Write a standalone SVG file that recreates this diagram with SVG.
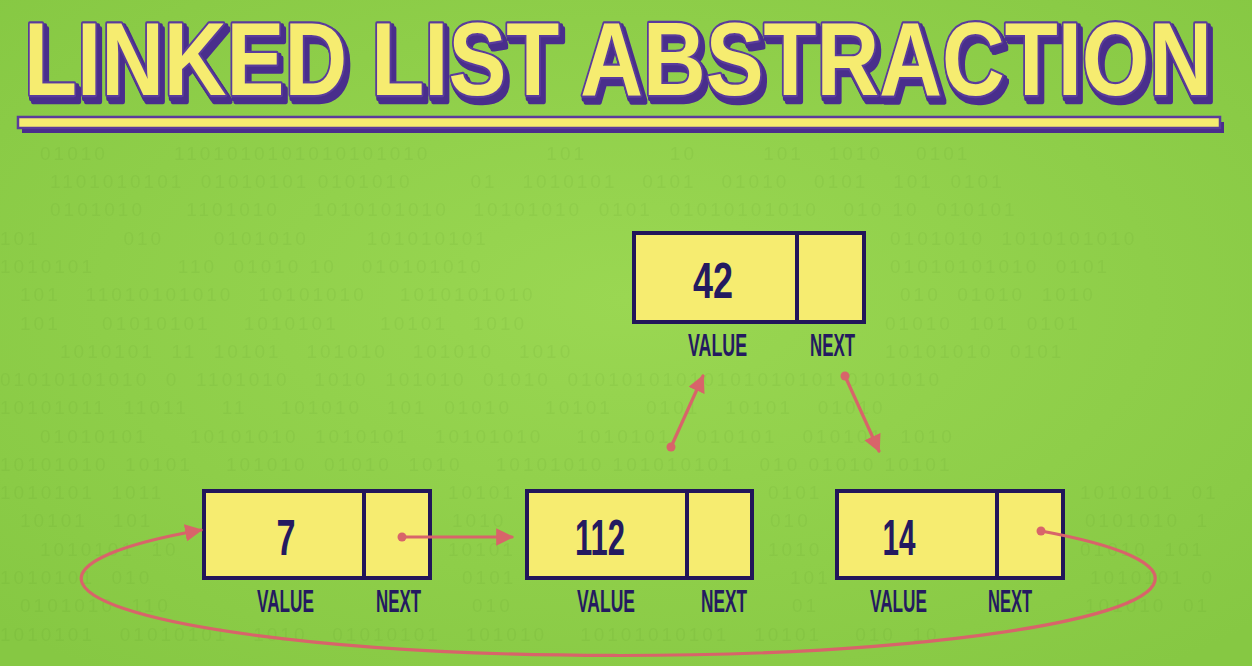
<svg xmlns="http://www.w3.org/2000/svg" width="1252" height="666" viewBox="0 0 1252 666">
<style>
.bin{font-family:"Liberation Sans","DejaVu Sans",sans-serif;font-size:19px;fill:#4f8a22;opacity:0.09;letter-spacing:3px;white-space:pre}
.box{fill:#f6ec70;stroke:#22165a;stroke-width:4}
.div{stroke:#22165a;stroke-width:4}
.num{font-family:"Liberation Sans","DejaVu Sans",sans-serif;font-weight:bold;font-size:50px;fill:#241a60;text-anchor:middle}
.lbl{font-family:"Liberation Sans","DejaVu Sans",sans-serif;font-weight:bold;font-size:31px;fill:#241a60}
.title{font-family:"Liberation Sans","DejaVu Sans",sans-serif;font-weight:bold;font-size:60px}
.conn{fill:none;stroke:#d8646a;stroke-width:3.2;stroke-linecap:round}
.dot{fill:#d8646a}
</style>
<defs>
<radialGradient id="bg" cx="0.5" cy="0.45" r="0.7">
<stop offset="0" stop-color="#9ad752"/>
<stop offset="1" stop-color="#86c843"/>
</radialGradient>
<marker id="ah" viewBox="0 0 10 10" refX="9" refY="5" markerWidth="5.5" markerHeight="5.5" orient="auto" markerUnits="strokeWidth">
<path d="M0,0 L10,5 L0,10 z" fill="#d8646a"/>
</marker>
<filter id="sh" x="-3%" y="-20%" width="106%" height="150%">
<feMorphology in="SourceAlpha" operator="dilate" radius="0.7" result="d"/>
<feOffset in="d" dx="1.38" dy="1.75" result="o1"/>
<feOffset in="d" dx="2.76" dy="3.5" result="o2"/>
<feMerge result="o"><feMergeNode in="o1"/><feMergeNode in="o2"/></feMerge>
<feFlood flood-color="#4a2d8c"/>
<feComposite in2="o" operator="in" result="s"/>
<feMerge><feMergeNode in="s"/><feMergeNode in="SourceGraphic"/></feMerge>
</filter>
</defs>
<rect x="0" y="0" width="1252" height="666" fill="url(#bg)"/>
<g id="background-binary" xml:space="preserve">
<text class="bin" x="40" y="160">01010        1101010101010101010              101          10        101   1010    0101</text>
<text class="bin" x="50" y="188">1101010101  01010101 0101010       01   1010101   0101   01010   0101   101  0101</text>
<text class="bin" x="50" y="216">0101010     1101010    1010101010   10101010  0101  01010101010   010 10  010101</text>
<text class="bin" x="0" y="245">101          010      0101010       101010101</text>
<text class="bin" x="890" y="245">0101010  1010101010</text>
<text class="bin" x="0" y="273">1010101          110  01010 10   010101010</text>
<text class="bin" x="890" y="273">01010101010  0101</text>
<text class="bin" x="20" y="301">101   11010101010   10101010    1010101010</text>
<text class="bin" x="900" y="301">010  01010  1010</text>
<text class="bin" x="20" y="330">101     01010101    1010101     10101   1010</text>
<text class="bin" x="885" y="330">01010  101  0101</text>
<text class="bin" x="60" y="358">1010101  11  10101   101010   101010   1010</text>
<text class="bin" x="885" y="358">10101010  0101</text>
<text class="bin" x="0" y="386">01010101010  0  1101010   1010  101010  01010  01010101010101010101 0101010</text>
<text class="bin" x="0" y="414">10101011  11011    11    101010   101  01010    10101    0101   10101   01010</text>
<text class="bin" x="40" y="443">01010101     10101010  1010101   10101010    1010101   010101   010101  1010</text>
<text class="bin" x="0" y="471">10101010  10101    101010  01010  1010    10101010 101010101   010 01010 10101</text>
<text class="bin" x="0" y="499">1010101  1011</text>
<text class="bin" x="448" y="499">10101</text>
<text class="bin" x="768" y="499">0101</text>
<text class="bin" x="1080" y="499">1010101  01</text>
<text class="bin" x="20" y="527">10101   101</text>
<text class="bin" x="452" y="527">1010</text>
<text class="bin" x="770" y="527">010</text>
<text class="bin" x="1085" y="527">0101010  1</text>
<text class="bin" x="40" y="556">1010101  10</text>
<text class="bin" x="448" y="556">10101</text>
<text class="bin" x="768" y="556">1010</text>
<text class="bin" x="1080" y="556">01010  101</text>
<text class="bin" x="0" y="584">1010101  010</text>
<text class="bin" x="462" y="584">0101</text>
<text class="bin" x="790" y="584">101</text>
<text class="bin" x="1090" y="584">1010101  0</text>
<text class="bin" x="20" y="612">0101010  110</text>
<text class="bin" x="472" y="612">010</text>
<text class="bin" x="792" y="612">01</text>
<text class="bin" x="1085" y="612">101010  01</text>
<text class="bin" x="0" y="641">1010101   01010101   1010   01010101   101010    10101010101   10101    010  10</text>
</g>
<g id="title">
<text class="title" transform="translate(24,94.5) scale(1.447,1.72)" x="0" y="0" fill="#f6ec70" stroke="#5a3b9c" stroke-width="2.5" stroke-linejoin="round" paint-order="stroke" filter="url(#sh)">LINKED LIST ABSTRACTION</text>
<rect x="22" y="122" width="1202" height="11" fill="#4a2d8c"/>
<rect x="18" y="117" width="1202" height="11" fill="#f6ec70" stroke="#5a3b9c" stroke-width="2.5"/>
</g>
<g id="node-42">
<rect class="box" x="634" y="233" width="230" height="89"/>
<line class="div" x1="797" y1="233" x2="797" y2="322"/>
<text class="num" x="713" y="298" textLength="40" lengthAdjust="spacingAndGlyphs">42</text>
<text class="lbl" x="688" y="356" textLength="59" lengthAdjust="spacingAndGlyphs">VALUE</text>
<text class="lbl" x="810" y="356" textLength="45" lengthAdjust="spacingAndGlyphs">NEXT</text>
</g>
<g id="node-7">
<rect class="box" x="204" y="491" width="226" height="87"/>
<line class="div" x1="364" y1="491" x2="364" y2="578"/>
<text class="num" x="286" y="555" textLength="19" lengthAdjust="spacingAndGlyphs">7</text>
<text class="lbl" x="257" y="612" textLength="57" lengthAdjust="spacingAndGlyphs">VALUE</text>
<text class="lbl" x="376" y="612" textLength="45" lengthAdjust="spacingAndGlyphs">NEXT</text>
</g>
<g id="node-112">
<rect class="box" x="527" y="491" width="225" height="87"/>
<line class="div" x1="687" y1="491" x2="687" y2="578"/>
<text class="num" x="600" y="555" textLength="50" lengthAdjust="spacingAndGlyphs">112</text>
<text class="lbl" x="577" y="612" textLength="58" lengthAdjust="spacingAndGlyphs">VALUE</text>
<text class="lbl" x="701" y="612" textLength="46" lengthAdjust="spacingAndGlyphs">NEXT</text>
</g>
<g id="node-14">
<rect class="box" x="837" y="491" width="226" height="87"/>
<line class="div" x1="997" y1="491" x2="997" y2="578"/>
<text class="num" x="899" y="555" textLength="33" lengthAdjust="spacingAndGlyphs">14</text>
<text class="lbl" x="870" y="612" textLength="57" lengthAdjust="spacingAndGlyphs">VALUE</text>
<text class="lbl" x="988" y="612" textLength="44" lengthAdjust="spacingAndGlyphs">NEXT</text>
</g>
<g id="connectors">
<line class="conn" x1="402" y1="537" x2="512" y2="537" marker-end="url(#ah)"/>
<circle class="dot" cx="402" cy="537" r="4.5"/>
<path class="conn" d="M1041,531 A537,77 0 1 1 201,530" marker-end="url(#ah)"/>
<circle class="dot" cx="1041" cy="531" r="4.5"/>
<line class="conn" x1="671" y1="447" x2="703" y2="376" marker-end="url(#ah)"/>
<circle class="dot" cx="671" cy="447" r="4.5"/>
<line class="conn" x1="845" y1="376" x2="879" y2="451" marker-end="url(#ah)"/>
<circle class="dot" cx="845" cy="376" r="4.5"/>
</g>
</svg>
